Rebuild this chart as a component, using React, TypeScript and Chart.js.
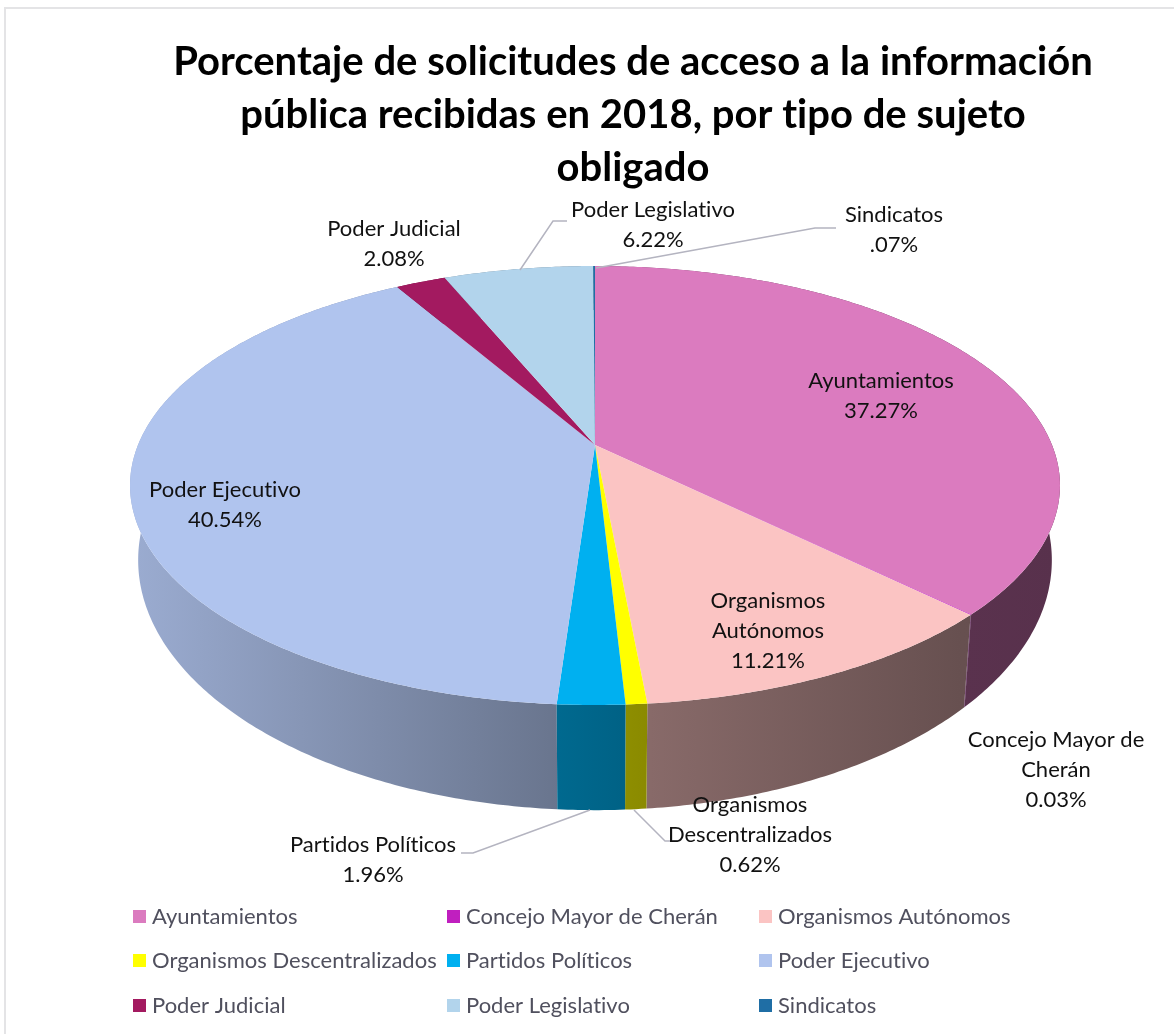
import React, { useEffect, useRef } from "react";
import { Chart, registerables } from "chart.js";

Chart.register(...registerables);

const categories = [
  "Ayuntamientos",
  "Concejo Mayor de Cherán",
  "Organismos Autónomos",
  "Organismos Descentralizados",
  "Partidos Políticos",
  "Poder Ejecutivo",
  "Poder Judicial",
  "Poder Legislativo",
  "Sindicatos",
];
const values = [37.27, 0.03, 11.21, 0.62, 1.96, 40.54, 2.08, 6.22, 0.07];
const valueLabels = ["37.27%", "0.03%", "11.21%", "0.62%", "1.96%", "40.54%", "2.08%", "6.22%", ".07%"];
const sliceColors = ["#DB7BBF", "#C01FBF", "#FBC4C3", "#FFFF00", "#00B0F0", "#B0C4EE", "#A31A60", "#B2D4EC", "#1F6EA5"];
const titleLines = [
  "Porcentaje de solicitudes de acceso a la información",
  "pública recibidas en 2018, por tipo de sujeto",
  "obligado",
];

const FONT = "Lato, Carlito, sans-serif";
const LABEL_SIZE = 22;
const LEGEND_SIZE = 22;
const P = 0.1845;
const TOP = { cx: 595, cy: 445, a: 457, b: 212 };
const BOTTOM = { cx: 595, cy: 514, a: 449, b: 241.5 };

// centre x and first baseline, line height 30, for each data label
const labelLayout: { x: number; y: number; name: string[] }[] = [
  { x: 881, y: 388, name: ["Ayuntamientos"] },
  { x: 1056, y: 747, name: ["Concejo Mayor de", "Cherán"] },
  { x: 768, y: 608, name: ["Organismos", "Autónomos"] },
  { x: 750, y: 812, name: ["Organismos", "Descentralizados"] },
  { x: 373, y: 852, name: ["Partidos Políticos"] },
  { x: 225, y: 497, name: ["Poder Ejecutivo"] },
  { x: 394, y: 236, name: ["Poder Judicial"] },
  { x: 653, y: 217, name: ["Poder Legislativo"] },
  { x: 894, y: 222, name: ["Sindicatos"] },
];
const leaders = [
  [[520, 270], [553, 221], [567, 221]],
  [[596, 268], [815, 228], [836, 228]],
  [[590, 810], [473, 853], [461, 853]],
  [[634, 810], [665, 841], [677, 841]],
];
const legendCols = [133, 447, 759];
const legendRows = [910, 954, 999];

const shadeStops: [number, number][] = [
  [130, 0.88],
  [550, 0.6],
  [650, 0.54],
  [960, 0.41],
  [1060, 0.4],
];

function hexRgb(h: string) {
  return [parseInt(h.slice(1, 3), 16), parseInt(h.slice(3, 5), 16), parseInt(h.slice(5, 7), 16)];
}

function proj(theta: number, g: typeof TOP): [number, number] {
  const u = Math.cos(theta);
  const v = Math.sin(theta);
  const w = 1 - P * v;
  return [g.cx + (g.a * u) / w, g.cy + (g.b * v) / w];
}

function arcPoints(start: number, end: number, g: typeof TOP) {
  const n = Math.max(2, Math.ceil((end - start) / 0.01));
  const pts: [number, number][] = [];
  for (let i = 0; i <= n; i++) pts.push(proj(start + ((end - start) * i) / n, g));
  return pts;
}

const pie3d = {
  id: "pie3d",
  beforeDraw(chart: any) {
    // turns off Lato's "ti" ligature, which the reference text does not have
    chart.ctx.letterSpacing = "0.01px";
  },
  beforeDatasetDraw(chart: any) {
    const ctx: CanvasRenderingContext2D = chart.ctx;
    const arcs = chart.getDatasetMeta(0).data as any[];
    const order = arcs
      .map((a, i) => ({ a, i, mid: Math.sin((a.startAngle + a.endAngle) / 2) }))
      .sort((l, r) => l.mid - r.mid);

    // side walls
    for (const { a, i } of order) {
      const rgb = hexRgb(sliceColors[i]);
      const grad = ctx.createLinearGradient(130, 0, 1060, 0);
      for (const [x, s] of shadeStops) {
        grad.addColorStop(
          (x - 130) / 930,
          `rgb(${Math.round(rgb[0] * s)},${Math.round(rgb[1] * s)},${Math.round(rgb[2] * s)})`
        );
      }
      const t = arcPoints(a.startAngle, a.endAngle, TOP);
      const b = arcPoints(a.startAngle, a.endAngle, BOTTOM).reverse();
      ctx.beginPath();
      [...t, ...b].forEach(([x, y], k) => (k ? ctx.lineTo(x, y) : ctx.moveTo(x, y)));
      ctx.closePath();
      ctx.fillStyle = grad;
      ctx.fill();
    }
    // top face
    arcs.forEach((a, i) => {
      ctx.beginPath();
      ctx.moveTo(TOP.cx, TOP.cy);
      arcPoints(a.startAngle, a.endAngle, TOP).forEach(([x, y]) => ctx.lineTo(x, y));
      ctx.closePath();
      ctx.fillStyle = sliceColors[i];
      ctx.fill();
    });
    return false;
  },
  afterDatasetsDraw(chart: any) {
    const ctx: CanvasRenderingContext2D = chart.ctx;
    ctx.save();
    // frame
    ctx.strokeStyle = "#E4E4E6";
    ctx.lineWidth = 2;
    ctx.beginPath();
    ctx.moveTo(5, 1034);
    ctx.lineTo(5, 8);
    ctx.lineTo(1174, 8);
    ctx.stroke();
    // leader lines
    ctx.strokeStyle = "#B4B4C0";
    ctx.lineWidth = 1.5;
    for (const line of leaders) {
      ctx.beginPath();
      line.forEach(([x, y], k) => (k ? ctx.lineTo(x, y) : ctx.moveTo(x, y)));
      ctx.stroke();
    }
    // data labels
    ctx.fillStyle = "#111111";
    ctx.font = `${LABEL_SIZE}px ${FONT}`;
    ctx.textAlign = "center";
    ctx.textBaseline = "alphabetic";
    labelLayout.forEach((l, i) => {
      [...l.name, valueLabels[i]].forEach((s, k) => ctx.fillText(s, l.x, l.y + k * 30));
    });
    // legend
    ctx.textAlign = "left";
    ctx.font = `${LEGEND_SIZE}px ${FONT}`;
    categories.forEach((c, i) => {
      const col = i % 3;
      const row = Math.floor(i / 3);
      const x = legendCols[col];
      const y = legendRows[row];
      ctx.fillStyle = sliceColors[i];
      ctx.fillRect(x, y, 13, 13);
      ctx.fillStyle = "#50505E";
      ctx.fillText(c, x + 19, y + 14);
    });
    ctx.restore();
  },
};

export default function App() {
  const ref = useRef<HTMLCanvasElement>(null);
  useEffect(() => {
    const chart = new Chart(ref.current!, {
      type: "pie",
      data: {
        labels: categories,
        datasets: [{ data: values, backgroundColor: sliceColors, borderWidth: 0 }],
      },
      options: {
        responsive: false,
        animation: false,
        events: [],
        layout: { padding: { left: 92 } },
        plugins: {
          legend: { display: false },
          tooltip: { enabled: false },
          title: {
            display: true,
            text: titleLines,
            fullSize: false,
            color: "#000000",
            font: { family: FONT, size: 40, weight: "bold", lineHeight: 1.335 },
            padding: { top: 35, bottom: 0 },
          },
        },
      },
      plugins: [pie3d],
    } as any);
    return () => chart.destroy();
  }, []);
  return (
    <div style={{ position: "fixed", left: 0, top: 0, width: 1174, height: 1034, background: "#fff", overflow: "hidden" }}>
      <canvas ref={ref} width={1174} height={1034} style={{ display: "block" }} />
    </div>
  );
}
